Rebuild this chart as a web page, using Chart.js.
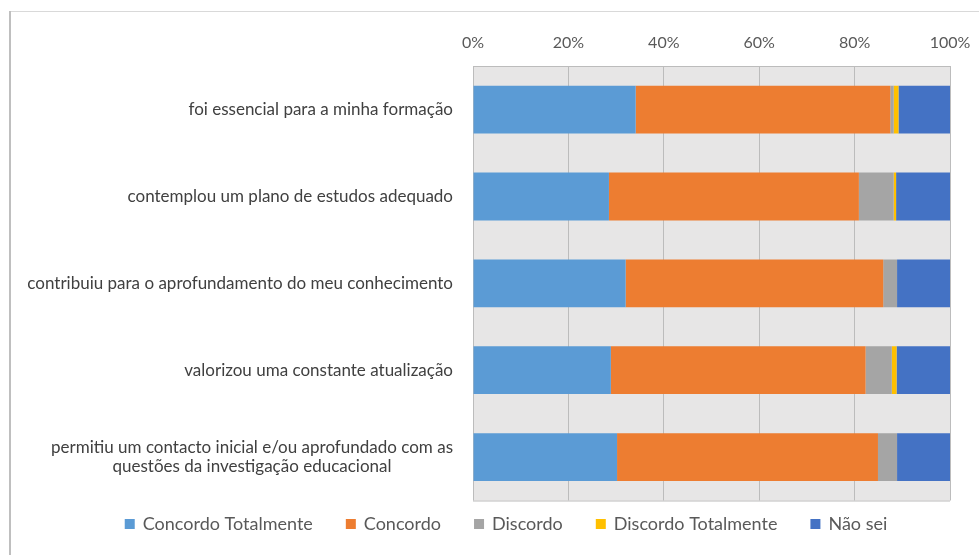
<!DOCTYPE html>
<html lang="pt">
<head>
<meta charset="utf-8">
<title>Avaliação da unidade curricular</title>
<script src="https://cdn.jsdelivr.net/npm/chart.js@4.4.1/dist/chart.umd.min.js"></script>
<style>
    html, body { margin: 0; padding: 0; background: #ffffff; }
    #grafico { display: block; }
</style>
</head>
<body>
<canvas id="grafico" width="979" height="555"></canvas>
<script>
// Afirmações avaliadas (a última ocupa duas linhas)
const categorias = [
    'foi essencial para a minha formação',
    'contemplou um plano de estudos adequado',
    'contribuiu para o aprofundamento do meu conhecimento',
    'valorizou uma constante atualização',
    ['permitiu um contacto inicial e/ou aprofundado com as', 'questões da investigação educacional']
];

// Percentagem de respostas por opção
const concordoTotalmente = [34.1, 28.5, 32.0, 28.9, 30.2];
const concordo = [53.4, 52.4, 54.0, 53.4, 54.7];
const discordo = [0.7, 7.3, 2.9, 5.5, 4.0];
const discordoTotalmente = [1.0, 0.5, 0.0, 1.0, 0.0];
const naoSei = [10.8, 11.3, 11.1, 11.2, 11.1];

const ticksX = [0, 20, 40, 60, 80, 100];

const fonte = 'Lato, "Open Sans", sans-serif';

// Fundo cinzento da área do gráfico, moldura exterior e linha inferior
const fundoPlugin = {
    id: 'fundo',
    beforeDraw(chart) {
        const { ctx, chartArea: a } = chart;
        ctx.save();
        ctx.fillStyle = '#e7e6e6';
        ctx.fillRect(a.left, a.top, a.right - a.left, a.bottom - a.top);
        // moldura do gráfico
        ctx.strokeStyle = '#d9d9d9';
        ctx.lineWidth = 1;
        ctx.beginPath();
        ctx.moveTo(9, 11.5);
        ctx.lineTo(chart.width, 11.5);
        ctx.stroke();
        ctx.strokeStyle = '#bfbfbf';
        ctx.lineWidth = 2;
        ctx.beginPath();
        ctx.moveTo(10, 11);
        ctx.lineTo(10, chart.height);
        ctx.stroke();
        ctx.restore();
    },
    beforeDatasetsDraw(chart) {
        const { ctx, chartArea: a } = chart;
        ctx.save();
        ctx.strokeStyle = '#bcbcbc';
        ctx.lineWidth = 1;
        ctx.beginPath();
        ctx.moveTo(a.left, a.bottom + 0.5);
        ctx.lineTo(a.right, a.bottom + 0.5);
        ctx.stroke();
        ctx.restore();
    }
};

// Rótulos das categorias: alinhados à direita, linhas centradas entre si
const rotulosPlugin = {
    id: 'rotulos',
    afterDraw(chart) {
        const { ctx, chartArea: a } = chart;
        const escalaY = chart.scales.y;
        ctx.save();
        ctx.font = '17px ' + fonte;
        ctx.fillStyle = '#404040';
        ctx.textAlign = 'center';
        ctx.textBaseline = 'middle';
        const direita = a.left - 20;
        categorias.forEach((rotulo, i) => {
            const linhas = Array.isArray(rotulo) ? rotulo : [rotulo];
            const largura = Math.max(...linhas.map(l => ctx.measureText(l).width));
            const centroX = direita - largura / 2;
            const y = escalaY.getPixelForValue(i);
            const alturaLinha = 19;
            const y0 = y - (linhas.length - 1) * alturaLinha / 2;
            linhas.forEach((l, j) => ctx.fillText(l, centroX, y0 + j * alturaLinha));
        });
        ctx.restore();
    }
};

// Legenda numa só linha, centrada por baixo do gráfico
const legendaPlugin = {
    id: 'legenda',
    afterDraw(chart) {
        const { ctx } = chart;
        const ds = chart.data.datasets;
        const caixa = 10, espaco = 8, entre = 33;
        ctx.save();
        ctx.font = '18px ' + fonte;
        ctx.textBaseline = 'middle';
        ctx.textAlign = 'left';
        const larguras = ds.map(d => caixa + espaco + ctx.measureText(d.label).width);
        const total = larguras.reduce((s, w) => s + w, 0) + entre * (ds.length - 1);
        let x = 506 - total / 2;
        const y = 524;
        ds.forEach((d, i) => {
            ctx.fillStyle = d.backgroundColor;
            ctx.fillRect(x, y - caixa / 2, caixa, caixa);
            ctx.fillStyle = '#595959';
            ctx.fillText(d.label, x + caixa + espaco, y);
            x += larguras[i] + entre;
        });
        ctx.restore();
    }
};

const series = [
    { label: 'Concordo Totalmente', data: concordoTotalmente, cor: '#5b9bd5' },
    { label: 'Concordo', data: concordo, cor: '#ed7d31' },
    { label: 'Discordo', data: discordo, cor: '#a5a5a5' },
    { label: 'Discordo Totalmente', data: discordoTotalmente, cor: '#ffc000' },
    { label: 'Não sei', data: naoSei, cor: '#4472c4' }
];

new Chart(document.getElementById('grafico'), {
    type: 'bar',
    data: {
        labels: categorias,
        datasets: series.map(s => ({
            label: s.label,
            data: s.data,
            backgroundColor: s.cor,
            borderWidth: 0,
            barPercentage: 0.55,
            categoryPercentage: 1
        }))
    },
    options: {
        indexAxis: 'y',
        responsive: false,
        animation: false,
        layout: {
            padding: { left: 9, right: 29, top: 19, bottom: 54.5 }
        },
        scales: {
            x: {
                position: 'top',
                stacked: true,
                min: 0,
                max: 100,
                afterBuildTicks(scale) {
                    scale.ticks = ticksX.map(v => ({ value: v }));
                },
                afterFit(scale) {
                    scale.paddingLeft = 0;
                    scale.paddingRight = 0;
                },
                ticks: {
                    padding: 14,
                    color: '#595959',
                    font: { family: fonte, size: 16 },
                    callback: v => v + '%'
                },
                grid: {
                    color: '#bcbcbc',
                    drawTicks: false
                },
                border: { color: '#bcbcbc' }
            },
            y: {
                stacked: true,
                ticks: { display: false },
                grid: { display: false },
                border: { display: false },
                afterFit(scale) {
                    scale.width = 464;
                }
            }
        },
        plugins: {
            legend: { display: false },
            tooltip: { enabled: false }
        }
    },
    plugins: [fundoPlugin, rotulosPlugin, legendaPlugin]
});
</script>
</body>
</html>
